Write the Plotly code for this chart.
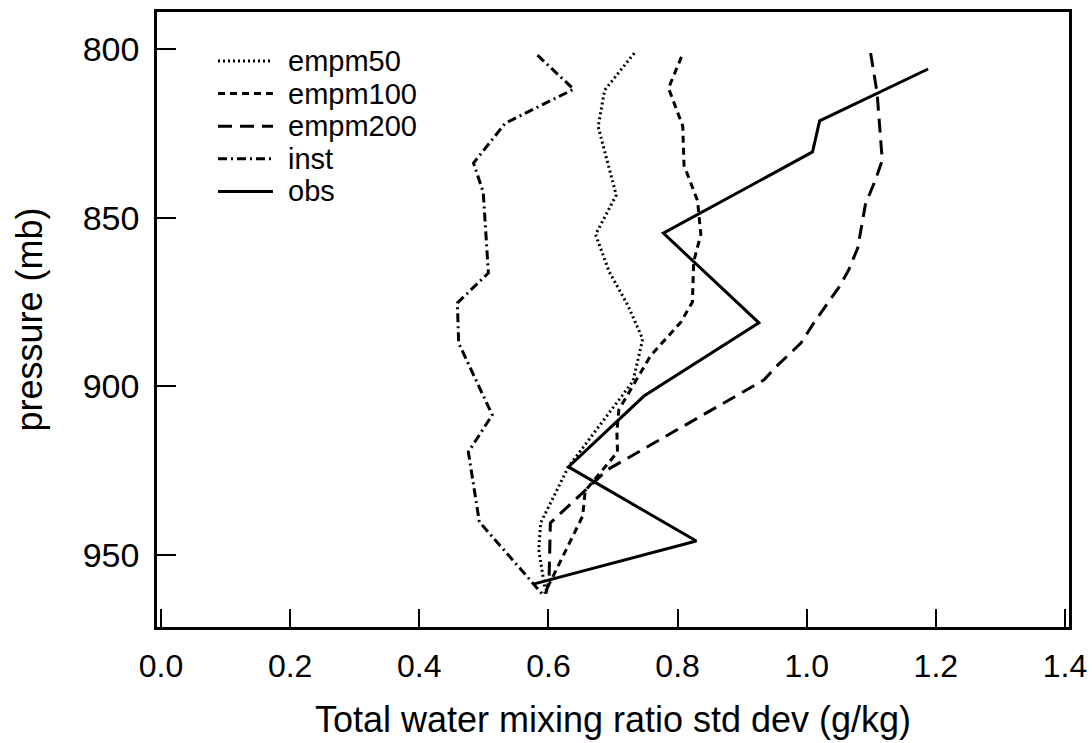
import plotly.graph_objects as go

# Standard deviation profiles of total water mixing ratio (g/kg) vs pressure (mb)
empm50_p = [801.2, 812.2, 823.0, 843.3, 855.0, 866.0, 876.0, 886.0, 898.5, 923.9, 940.5, 948.5, 960.4]
empm50_x = [0.733, 0.687, 0.677, 0.705, 0.673, 0.694, 0.723, 0.746, 0.731, 0.631, 0.588, 0.585, 0.595]

empm100_p = [802.3, 811.6, 822.8, 834.5, 845.0, 855.0, 863.0, 875.0, 881.0, 891.0, 907.0,
             913.5, 919.5, 931.0, 938.5, 961.5]
empm100_x = [0.806, 0.786, 0.808, 0.810, 0.831, 0.836, 0.825, 0.823, 0.805, 0.758, 0.709,
             0.706, 0.707, 0.657, 0.653, 0.594]

empm200_p = [801.2, 813.0, 833.0, 839.0, 846.0, 859.0, 865.5, 870.6, 881.2, 887.2, 894.3,
             898.1, 924.8, 940.5, 957.4, 961.5]
empm200_x = [1.099, 1.109, 1.117, 1.106, 1.091, 1.079, 1.065, 1.050, 1.011, 0.991, 0.952,
             0.934, 0.691, 0.603, 0.601, 0.596]

inst_p = [801.8, 811.9, 822.0, 833.8, 842.4, 866.4, 875.3, 887.2, 908.5, 919.5, 940.2, 961.5]
inst_x = [0.583, 0.639, 0.533, 0.484, 0.499, 0.507, 0.459, 0.461, 0.513, 0.476, 0.493, 0.590]

obs_p = [805.9, 821.3, 830.5, 854.6, 881.2, 902.9, 923.9, 945.9, 958.6]
obs_x = [1.188, 1.020, 1.009, 0.778, 0.926, 0.748, 0.631, 0.829, 0.578]

series_names = ["empm50", "empm100", "empm200", "inst", "obs"]
series_p = [empm50_p, empm100_p, empm200_p, inst_p, obs_p]
series_x = [empm50_x, empm100_x, empm200_x, inst_x, obs_x]
series_dash = ["2px,3px", "7px,5px", "14px,8px", "9px,4px,2px,4px", "solid"]

x_ticks = [0.0, 0.2, 0.4, 0.6, 0.8, 1.0, 1.2, 1.4]
y_ticks = [800, 850, 900, 950]

W, H = 1092, 743
ML, MR, MT, MB = 157, 23, 12, 116
PW, PH = W - ML - MR, H - MT - MB
FONT = "Liberation Sans, Arial, Helvetica, sans-serif"
LW = 3.0

fig = go.Figure()
for name, p, x, dash in zip(series_names, series_p, series_x, series_dash):
    fig.add_trace(go.Scatter(
        x=x, y=p, mode="lines", name=name, showlegend=False,
        line=dict(color="black", width=LW, dash=dash),
        hoverinfo="skip",
    ))

# Key drawn in the upper-left corner of the plotting area
def px_x(px):
    return (px - ML) / PW

def px_y(py):
    return 1 - (py - MT) / PH

shapes = []
annotations = []
for i, (name, dash) in enumerate(zip(series_names, series_dash)):
    yy = px_y(61 + 32.6 * i)
    shapes.append(dict(type="line", xref="paper", yref="paper",
                       x0=px_x(218), x1=px_x(273), y0=yy, y1=yy,
                       line=dict(color="black", width=LW, dash=dash)))
    annotations.append(dict(xref="paper", yref="paper", x=px_x(286), y=yy,
                            text=name, showarrow=False, xanchor="left", yanchor="middle",
                            font=dict(family=FONT, size=29, color="black")))

fig.update_layout(
    width=W, height=H,
    margin=dict(l=ML, r=MR, t=MT, b=MB, pad=0, autoexpand=False),
    paper_bgcolor="white", plot_bgcolor="white",
    font=dict(family=FONT, color="black"),
    shapes=shapes, annotations=annotations,
    showlegend=False,
)
fig.update_xaxes(
    range=[-0.0062, 1.4062], tickvals=x_ticks, tickformat=".1f", automargin=False,
    ticks="inside", ticklen=18, tickwidth=2, tickcolor="black",
    showline=True, linecolor="black", linewidth=2.5, mirror=True,
    showgrid=False, zeroline=False,
    tickfont=dict(family=FONT, size=32, color="black"), ticklabelstandoff=9,
    title=dict(text="Total water mixing ratio std dev (g/kg)",
               font=dict(family=FONT, size=36, color="black"), standoff=24),
)
fig.update_yaxes(
    range=[971.4, 789.0], tickvals=y_ticks, automargin=False,
    ticks="inside", ticklen=19, tickwidth=2, tickcolor="black",
    showline=True, linecolor="black", linewidth=2.5, mirror=True,
    showgrid=False, zeroline=False,
    tickfont=dict(family=FONT, size=34, color="black"), ticklabelstandoff=8,
    title=dict(text="pressure (mb)", font=dict(family=FONT, size=36, color="black"), standoff=30),
)

fig.write_html("out.html")
